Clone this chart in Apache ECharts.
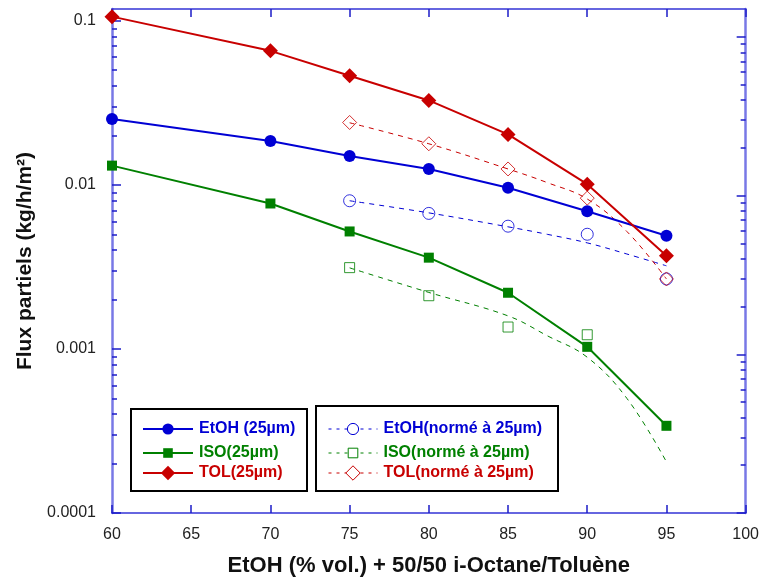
<!DOCTYPE html>
<html><head><meta charset="utf-8">
<script src="https://cdn.jsdelivr.net/npm/echarts@6/dist/echarts.min.js"></script>
<style>html,body{margin:0;padding:0;background:#fff}#c{width:762px;height:585px}</style>
</head><body><div id="c"></div>
<script>
// ---- data ----
const xValues = [60, 70, 75, 80, 85, 90, 95];
const etoh25 = [0.0252, 0.0185, 0.0150, 0.0125, 0.0096, 0.0069, 0.0049];
const iso25  = [0.0131, 0.0077, 0.0052, 0.0036, 0.0022, 0.00103, 0.00034];
const tol25  = [0.106, 0.0656, 0.0462, 0.0327, 0.0203, 0.0101, 0.0037];

const normX      = [75, 80, 85, 90, 95];
const etohNorm   = [0.0080, 0.0067, 0.0056, 0.0050, 0.00267];
const isoNormX   = [75, 80, 85, 90];
const isoNorm    = [0.00313, 0.00211, 0.00136, 0.00122];
const tolNorm    = [0.0240, 0.0178, 0.0125, 0.0083, 0.00267];

const fitX       = [75, 80, 85, 87.5, 90, 92.5, 95];
const etohFit    = [0.0080, 0.00675, 0.00555, 0.00499, 0.00443, 0.00379, 0.00321];
const isoFit     = [0.00312, 0.00221, 0.00159, 0.00120, 0.00089, 0.00050, 0.000205];
const tolFit     = [0.0239, 0.0178, 0.0125, 0.0103, 0.0082, 0.0052, 0.00267];

const yMajor = [0.0001, 0.001, 0.01, 0.1];
const yMajorLabels = ['0.0001', '0.001', '0.01', '0.1'];
const yMinor = [];
yMajor.forEach(d => { for (let k = 2; k <= 9; k++) yMinor.push(+(d * k).toPrecision(3)); });

const names = {
  etoh: 'EtOH (25µm)', iso: 'ISO(25µm)', tol: 'TOL(25µm)',
  etohN: 'EtOH(normé à 25µm)', isoN: 'ISO(normé à 25µm)', tolN: 'TOL(normé à 25µm)'
};

// ---- styles ----
const BLUE = '#0000d4', GREEN = '#008000', RED = '#c80000';
const YAXIS = '#7878e6', XAXIS = '#3434d6', TICK = '#1c1cc8';
const FONT = '"Liberation Sans", Arial, sans-serif';

const pairs = (xs, ys) => xs.map((x, i) => [x, ys[i]]);

function solid(name, ys, color, symbol, size) {
  return { name, type: 'line', data: pairs(xValues, ys), symbol, symbolSize: size,
    lineStyle: { color, width: 2 }, itemStyle: { color }, z: 5, animation: false };
}
function fit(name, ys, color, symbol) {
  return { name, type: 'line', data: pairs(fitX, ys), smooth: 0.4, symbol, showSymbol: false,
    lineStyle: { color, width: 1, type: [5, 5] }, itemStyle: { color }, z: 3, animation: false };
}
function pts(name, xs, ys, color, symbol, size) {
  return { name, type: 'scatter', data: pairs(xs, ys), symbol, symbolSize: size,
    itemStyle: { color: 'rgba(255,255,255,0)', borderColor: color, borderWidth: 1 }, z: 4, animation: false };
}

const yAxisBase = (pos, max, tickVals, len, showLine) => ({
  type: 'log', logBase: 10, min: 0.0001, max, position: pos,
  axisLine: { show: showLine, lineStyle: { color: YAXIS, width: 2.5 } },
  axisTick: { show: true, inside: true, length: len, customValues: tickVals, lineStyle: { color: TICK, width: 1.5 } },
  axisLabel: { show: false }, splitLine: { show: false }, minorTick: { show: false }
});

const yLeft = yAxisBase('left', 0.118, yMajor, 9, true);
yLeft.axisLabel = { show: true, customValues: yMajor, fontSize: 16, color: '#222', fontFamily: FONT, margin: 16,
  formatter: v => yMajorLabels[Math.round(Math.log10(v)) + 4] };
yLeft.name = 'Flux partiels (kg/h/m²)';
yLeft.nameLocation = 'middle';
yLeft.nameGap = 70;
yLeft.nameTextStyle = { fontSize: 21, fontWeight: 'bold', color: '#111', fontFamily: FONT };

// one legend per row so each row's marker gets its own size
function legendRow(name, color, left, centerY, h, width, open, dashed) {
  const l = { data: [{ name, textStyle: { color } }], left, top: centerY - h / 2, padding: 0,
    itemWidth: width, itemHeight: h, selectedMode: false,
    textStyle: { fontSize: 16, fontWeight: 'bold', fontFamily: FONT, lineHeight: 16, padding: [0, 0, 0, 1] } };
  if (open) l.itemStyle = { color: '#fff', borderColor: color, borderWidth: 1 };
  if (dashed) l.lineStyle = { type: [3, 5], width: 1 };
  return l;
}

const option = {
  backgroundColor: '#fff',
  animation: false,
  grid: { left: 112, right: 14, top: 9, bottom: 72, containLabel: false },
  xAxis: [
    { type: 'value', min: 60, max: 100, interval: 5, position: 'bottom',
      axisLine: { lineStyle: { color: XAXIS, width: 1.6 } },
      axisTick: { inside: true, length: 8, lineStyle: { color: TICK, width: 1.5 } },
      axisLabel: { fontSize: 16, color: '#222', fontFamily: FONT, margin: 14 },
      splitLine: { show: false },
      name: 'EtOH (% vol.) + 50/50 i-Octane/Toluène', nameLocation: 'middle', nameGap: 42,
      nameTextStyle: { fontSize: 22, fontWeight: 'bold', color: '#111', fontFamily: FONT } },
    { type: 'value', min: 60, max: 100, interval: 5, position: 'top',
      axisLine: { lineStyle: { color: XAXIS, width: 1.6 } },
      axisTick: { inside: true, length: 8, lineStyle: { color: TICK, width: 1.5 } },
      axisLabel: { show: false }, splitLine: { show: false } }
  ],
  yAxis: [
    yLeft,
    yAxisBase('left', 0.118, yMinor, 5, false),
    yAxisBase('right', 0.15, yMajor, 9, true),
    yAxisBase('right', 0.15, yMinor, 5, false)
  ],
  legend: [
    legendRow(names.etoh, BLUE, 142, 428, 14, 50, false, false),
    legendRow(names.iso, GREEN, 142, 451, 12, 50, false, false),
    legendRow(names.tol, RED, 142, 474, 18, 50, false, false),
    legendRow(names.etohN, BLUE, 328, 428, 14, 49, true, true),
    legendRow(names.isoN, GREEN, 328, 451, 12, 49, true, true),
    legendRow(names.tolN, RED, 328, 474, 18, 49, true, true)
  ],
  graphic: [
    { type: 'rect', silent: true, z: 10, shape: { x: 131, y: 409, width: 176, height: 82 },
      style: { fill: 'none', stroke: '#000', lineWidth: 2 } },
    { type: 'rect', silent: true, z: 10, shape: { x: 316, y: 406, width: 242, height: 85 },
      style: { fill: 'none', stroke: '#000', lineWidth: 2 } }
  ],
  series: [
    fit(names.etohN, etohFit, BLUE, 'circle'),
    fit(names.isoN, isoFit, GREEN, 'rect'),
    fit(names.tolN, tolFit, RED, 'diamond'),
    pts('etohN pts', normX, etohNorm, BLUE, 'circle', 12),
    pts('isoN pts', isoNormX, isoNorm, GREEN, 'rect', 10),
    pts('tolN pts', normX, tolNorm, RED, 'diamond', 14),
    solid(names.etoh, etoh25, BLUE, 'circle', 12),
    solid(names.iso, iso25, GREEN, 'rect', 10),
    solid(names.tol, tol25, RED, 'diamond', 15)
  ]
};
const chart = echarts.init(document.getElementById('c'));
chart.setOption(option);
</script></body></html>
